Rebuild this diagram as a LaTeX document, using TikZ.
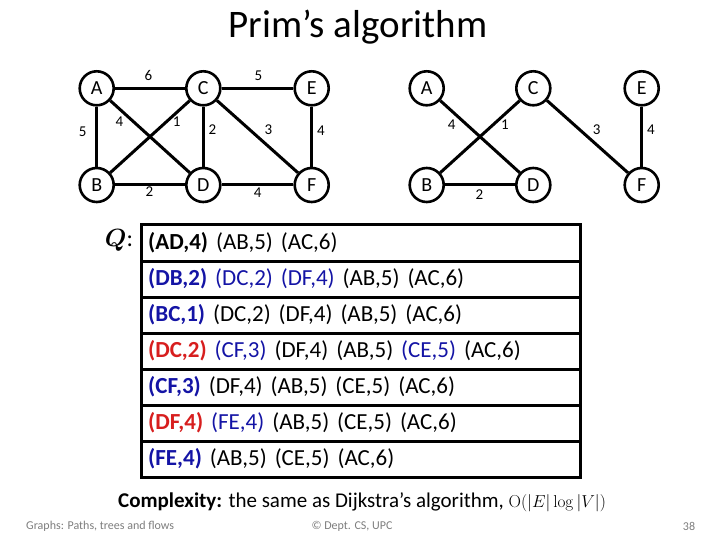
\documentclass[tikz,border=0pt]{standalone}
\usepackage{amsmath,bm}
\usepackage[no-math]{fontspec}
\setmainfont{Carlito}
\definecolor{qblue}{RGB}{20,20,165}
\definecolor{qred}{RGB}{215,30,30}
\definecolor{foot}{RGB}{125,125,125}
\newcommand\queuefont{\fontsize{23}{23}\selectfont\spaceskip=8pt plus 1pt minus 1pt\relax}
\begin{document}
\begin{tikzpicture}[x=1pt,y=-1pt,
  vtx/.style={circle,draw,line width=2.6pt,minimum size=34pt,inner sep=0pt,font=\fontsize{20}{20}\selectfont},
  edge/.style={line width=3pt},
  wlab/.style={font=\fontsize{15}{15}\selectfont,inner sep=0pt},
  qrow/.style={anchor=west,inner sep=0pt,font=\queuefont},
  rowline/.style={line width=3pt},
  foottext/.style={inner sep=0pt,text=foot,font=\fontsize{12}{12}\selectfont}]
\useasboundingbox (0,0) rectangle (720,540);
\node[font=\fontsize{39}{39}\selectfont,inner sep=0pt] (title) at (358,27) {Prim’s algorithm};
% left graph
\node[vtx] (A) at (96.7,88.3) {A};
\node[vtx] (C) at (203.3,88.3) {C};
\node[vtx] (E) at (311.7,88.3) {E};
\node[vtx] (B) at (96.7,185) {B};
\node[vtx] (D) at (203.3,185) {D};
\node[vtx] (F) at (311.7,185) {F};
\draw[edge] (A) -- (C);
\draw[edge] (C) -- (E);
\draw[edge] (A) -- (B);
\draw[edge] (A) -- (D);
\draw[edge] (B) -- (C);
\draw[edge] (C) -- (D);
\draw[edge] (C) -- (F);
\draw[edge] (E) -- (F);
\draw[edge] (B) -- (D);
\draw[edge] (D) -- (F);
\node[wlab] (wAC) at (148.3,75) {6};
\node[wlab] (wAB) at (82.7,131.7) {5};
\node[wlab] (wAD) at (119.3,121.7) {4};
\node[wlab] (wBC) at (176.7,121.7) {1};
\node[wlab] (wCD) at (212.3,130) {2};
\node[wlab] (wCE) at (258.3,76) {5};
\node[wlab] (wCF) at (268.3,130) {3};
\node[wlab] (wEF) at (321,130.7) {4};
\node[wlab] (wBD) at (149.3,191.7) {2};
\node[wlab] (wDF) at (257.7,192.7) {4};
% right graph
\node[vtx] (A2) at (426.7,88.3) {A};
\node[vtx] (C2) at (533.3,88.3) {C};
\node[vtx] (E2) at (641.7,88.3) {E};
\node[vtx] (B2) at (426.7,185) {B};
\node[vtx] (D2) at (533.3,185) {D};
\node[vtx] (F2) at (641.7,185) {F};
\draw[edge] (A2) -- (D2);
\draw[edge] (B2) -- (C2);
\draw[edge] (B2) -- (D2);
\draw[edge] (C2) -- (F2);
\draw[edge] (E2) -- (F2);
\node[wlab] (wAD2) at (451.7,125) {4};
\node[wlab] (wBC2) at (505,125) {1};
\node[wlab] (wCF2) at (596.7,129.3) {3};
\node[wlab] (wEF2) at (651,130) {4};
\node[wlab] (wBD2) at (479.3,195) {2};
% queue
\node[font=\fontsize{24}{24}\selectfont,inner sep=0pt] (Q) at (119,240) {$\bm{Q}$:};
\draw[rowline] (141,225) rectangle (580,477);
\foreach \yy in {261,297,333,369,405,441} \draw[rowline] (141,\yy) -- (580,\yy);
\node[qrow] (r1) at (148,243) {\textbf{(AD,4)} (AB,5) (AC,6)};
\node[qrow] (r2) at (148,279) {\textcolor{qblue}{\textbf{(DB,2)} (DC,2) (DF,4)} (AB,5) (AC,6)};
\node[qrow] (r3) at (148,315) {\textcolor{qblue}{\textbf{(BC,1)}} (DC,2) (DF,4) (AB,5) (AC,6)};
\node[qrow] (r4) at (148,351) {\textcolor{qred}{\textbf{(DC,2)}} \textcolor{qblue}{(CF,3)} (DF,4) (AB,5) \textcolor{qblue}{(CE,5)} (AC,6)};
\node[qrow] (r5) at (148,387) {\textcolor{qblue}{\textbf{(CF,3)}} (DF,4) (AB,5) (CE,5) (AC,6)};
\node[qrow] (r6) at (148,423) {\textcolor{qred}{\textbf{(DF,4)}} \textcolor{qblue}{(FE,4)} (AB,5) (CE,5) (AC,6)};
\node[qrow] (r7) at (148,459) {\textcolor{qblue}{\textbf{(FE,4)}} (AB,5) (CE,5) (AC,6)};
% complexity
\node[anchor=west,inner sep=0pt,font=\fontsize{21}{21}\selectfont] (cx) at (118,502) {\textbf{Complexity:} the same as Dijkstra’s algorithm, {\fontsize{17}{17}\selectfont$\mathrm{O}(|E|\log|V|)$}};
% footer
\node[foottext,anchor=west] (f1) at (26,526) {Graphs: Paths, trees and flows};
\node[foottext] (f2) at (352,526) {© Dept. CS, UPC};
\node[foottext] (f3) at (689,526) {38};
\end{tikzpicture}
\end{document}
